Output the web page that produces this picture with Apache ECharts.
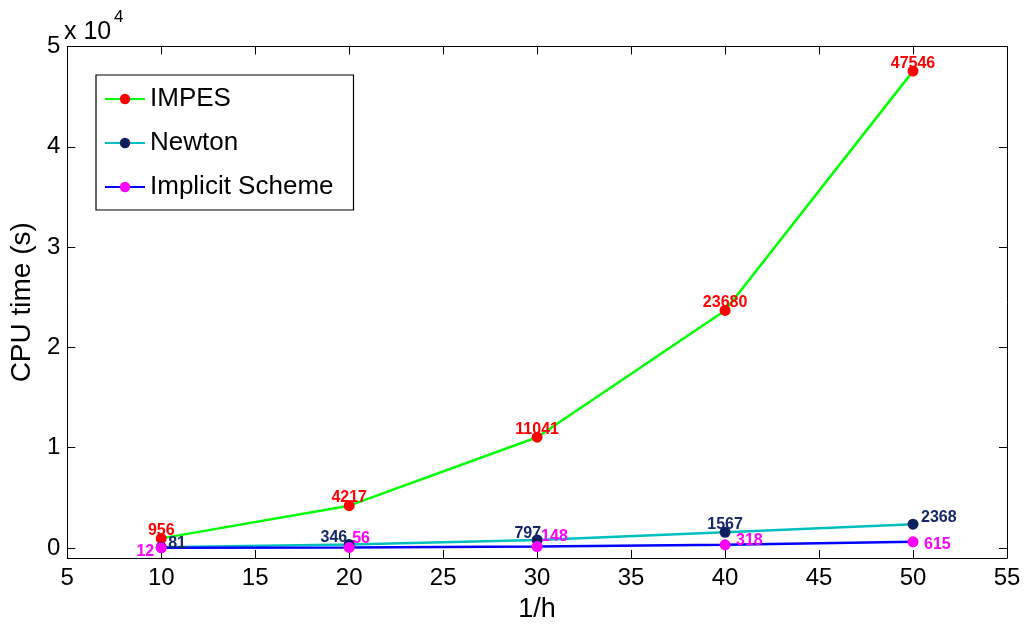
<!DOCTYPE html>
<html>
<head>
<meta charset="utf-8">
<script src="https://cdn.jsdelivr.net/npm/echarts@6/dist/echarts.min.js"></script>
<style>
  html, body { margin: 0; padding: 0; background: #ffffff; }
  #chart { width: 1026px; height: 628px; }
</style>
</head>
<body>
<div id="chart"></div>
<script>
// Mesh refinement levels (1/h) and CPU time in seconds for each solver
const meshLevels = [10, 20, 30, 40, 50];
const impesTimes = [956, 4217, 11041, 23680, 47546];
const newtonTimes = [81, 346, 797, 1567, 2368];
const implicitTimes = [12, 56, 148, 318, 615];
const xTicks = [5, 10, 15, 20, 25, 30, 35, 40, 45, 50, 55];
const yTicks = [0, 10000, 20000, 30000, 40000, 50000];

// Where each value label sits relative to its marker
const impesLabelPos = [
  { align: 'center', dx: 0, dy: 0 },
  { align: 'center', dx: 0, dy: 0 },
  { align: 'center', dx: 0, dy: 0 },
  { align: 'center', dx: 0, dy: 0 },
  { align: 'center', dx: 0, dy: 0 }
];
const newtonLabelPos = [
  { align: 'left', dx: 7, dy: 4 },
  { align: 'right', dx: -2, dy: 1 },
  { align: 'right', dx: 4, dy: 2 },
  { align: 'center', dx: 0, dy: 0 },
  { align: 'left', dx: 8, dy: 1 }
];
const implicitLabelPos = [
  { align: 'right', dx: -7, dy: 12 },
  { align: 'left', dx: 3, dy: -1 },
  { align: 'left', dx: 4, dy: -2 },
  { align: 'left', dx: 11, dy: 4 },
  { align: 'left', dx: 11, dy: 11 }
];

const FONT = '"Liberation Sans", Arial, Helvetica, sans-serif';

function buildPoints(values, placement, labelColor) {
  return values.map(function (v, i) {
    const p = placement[i];
    return {
      value: [meshLevels[i], v],
      label: {
        show: true,
        position: 'inside',
        align: p.align,
        verticalAlign: 'bottom',
        offset: [p.dx, p.dy],
        color: labelColor,
        fontFamily: FONT,
        fontSize: 16,
        fontWeight: 'bold',
        formatter: String(v)
      }
    };
  });
}

function lineSeries(name, values, placement, lineColor, markerColor, labelColor) {
  return {
    name: name,
    type: 'line',
    data: buildPoints(values, placement, labelColor),
    symbol: 'circle',
    symbolSize: 11,
    showAllSymbol: true,
    lineStyle: { color: lineColor, width: 2.5 },
    itemStyle: { color: markerColor },
    emphasis: { disabled: true },
    animation: false
  };
}

const chart = echarts.init(document.getElementById('chart'), null, { renderer: 'canvas' });

const hiddenLabels = { show: false };
const tickStyle = { inside: true, length: 8, lineStyle: { color: '#000', width: 1 } };

chart.setOption({
  backgroundColor: '#ffffff',
  animation: false,
  grid: { left: 64.5, right: 19, top: 46.5, bottom: 60, containLabel: false },
  legend: {
    orient: 'vertical',
    left: 96,
    top: 75,
    padding: [11, 20, 10, 8],
    itemGap: 18,
    itemWidth: 40,
    itemHeight: 13,
    borderColor: '#000',
    borderWidth: 1.2,
    backgroundColor: '#fff',
    textStyle: { fontFamily: FONT, fontSize: 26, color: '#000' },
    data: ['IMPES', 'Newton', 'Implicit Scheme']
  },
  xAxis: [
    {
      type: 'value',
      min: 5, max: 55, interval: 5,
      name: '1/h',
      nameLocation: 'middle',
      nameGap: 38,
      nameTextStyle: { fontFamily: FONT, fontSize: 27, color: '#000' },
      axisLine: { show: true, onZero: false, lineStyle: { color: '#000', width: 1 } },
      axisTick: Object.assign({ customValues: xTicks }, tickStyle),
      axisLabel: { customValues: xTicks, margin: 8, fontFamily: FONT, fontSize: 24, color: '#000' },
      splitLine: { show: false }
    },
    {
      type: 'value',
      position: 'top',
      min: 5, max: 55, interval: 5,
      axisLine: { show: true, onZero: false, lineStyle: { color: '#000', width: 1 } },
      axisTick: Object.assign({ customValues: xTicks }, tickStyle),
      axisLabel: hiddenLabels,
      splitLine: { show: false }
    }
  ],
  yAxis: [
    {
      type: 'value',
      min: -1000, max: 50000,
      name: 'CPU time (s)',
      nameLocation: 'middle',
      nameGap: 28,
      nameTextStyle: { fontFamily: FONT, fontSize: 28, color: '#000' },
      axisLine: { show: true, onZero: false, lineStyle: { color: '#000', width: 1 } },
      axisTick: Object.assign({ customValues: yTicks }, tickStyle),
      axisLabel: {
        customValues: yTicks,
        margin: 7,
        fontFamily: FONT, fontSize: 24, color: '#000',
        formatter: function (v) { return String(Math.round(v / 10000)); }
      },
      splitLine: { show: false }
    },
    {
      type: 'value',
      position: 'right',
      min: -1000, max: 50000,
      axisLine: { show: true, onZero: false, lineStyle: { color: '#000', width: 1 } },
      axisTick: Object.assign({ customValues: yTicks }, tickStyle),
      axisLabel: hiddenLabels,
      splitLine: { show: false }
    }
  ],
  graphic: [
    {
      type: 'text',
      left: 64,
      top: 20,
      style: {
        text: 'x 10',
        fontFamily: FONT,
        fontSize: 25,
        fill: '#000'
      }
    },
    {
      type: 'text',
      left: 114,
      top: 9,
      style: {
        text: '4',
        fontFamily: FONT,
        fontSize: 17,
        fill: '#000'
      }
    }
  ],
  series: [
    lineSeries('IMPES', impesTimes, impesLabelPos, '#00ff00', '#ff0000', '#ff0000'),
    lineSeries('Newton', newtonTimes, newtonLabelPos, '#00bfbf', '#0b1f5e', '#14286b'),
    lineSeries('Implicit Scheme', implicitTimes, implicitLabelPos, '#0000ff', '#ff00ff', '#ff00ff')
  ]
});
</script>
</body>
</html>
